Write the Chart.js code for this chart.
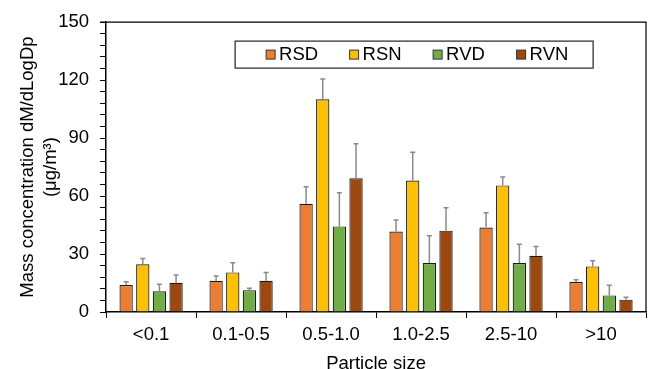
<!DOCTYPE html>
<html>
<head>
<meta charset="utf-8">
<script src="https://cdn.jsdelivr.net/npm/chart.js@4.4.0/dist/chart.umd.min.js"></script>
<style>
  html, body { margin: 0; padding: 0; background: #fff; }
  #wrap { width: 652px; height: 369px; }
</style>
</head>
<body>
<div id="wrap"><canvas id="chart"></canvas></div>
<script>
var sizeLabels = ['<0.1', '0.1-0.5', '0.5-1.0', '1.0-2.5', '2.5-10', '>10'];
var seriesNames = ['RSD', 'RSN', 'RVD', 'RVN'];
var seriesColors = ['#ED7D31', '#FFC000', '#70AD47', '#9E480E'];

var rsdValues = [14.0, 16.2, 56.0, 41.6, 43.7, 15.5];
var rsnValues = [24.7, 20.5, 110.1, 68.0, 65.5, 23.6];
var rvdValues = [10.7, 11.3, 44.3, 25.3, 25.3, 8.6];
var rvnValues = [15.1, 16.2, 69.2, 42.1, 29.1, 6.4];

var rsdErrors = [1.7, 2.4, 8.8, 6.0, 7.7, 1.2];
var rsnErrors = [3.0, 5.0, 10.5, 14.6, 4.3, 2.9];
var rvdErrors = [3.6, 1.0, 17.4, 14.1, 9.8, 5.3];
var rvnErrors = [4.0, 4.3, 17.9, 11.9, 4.8, 1.2];

var allValues = [rsdValues, rsnValues, rvdValues, rvnValues];
var allErrors = [rsdErrors, rsnErrors, rvdErrors, rvnErrors];

var fontName = "'Liberation Sans', Arial, sans-serif";

// upward error bars, drawn from the bar top
const errorBars = {
	id: 'errorBars',
	afterDatasetsDraw(chart) {
		var ctx = chart.ctx;
		var yScale = chart.scales.y;
		chart.data.datasets.forEach((ds, i) => {
			var meta = chart.getDatasetMeta(i);
			meta.data.forEach((bar, j) => {
				var yTop = yScale.getPixelForValue(ds.data[j] + ds.errors[j]);
				var yBase = yScale.getPixelForValue(ds.data[j]);
				ctx.save();
				ctx.strokeStyle = '#8a8a8a';
				ctx.lineWidth = 1.5;
				ctx.beginPath();
				ctx.moveTo(bar.x, yBase);
				ctx.lineTo(bar.x, yTop);
				ctx.moveTo(bar.x - 2.5, yTop);
				ctx.lineTo(bar.x + 2.5, yTop);
				ctx.stroke();
				ctx.restore();
			});
		});
	}
};

// frame round the plot area + boxed legend inside it
const frameAndLegend = {
	id: 'frameAndLegend',
	afterDraw(chart) {
		var ctx = chart.ctx;
		var area = chart.chartArea;
		ctx.save();
		ctx.strokeStyle = '#000';
		ctx.lineWidth = 1.2;
		ctx.beginPath();
		ctx.moveTo(area.left - 6, area.top);
		ctx.lineTo(area.right, area.top);
		ctx.lineTo(area.right, area.bottom);
		ctx.stroke();

		var boxLeft = area.left + 129;
		var boxTop = area.top + 19;
		ctx.fillStyle = '#fff';
		ctx.fillRect(boxLeft, boxTop, 358, 27);
		ctx.strokeStyle = '#222';
		ctx.lineWidth = 1.2;
		ctx.strokeRect(boxLeft, boxTop, 358, 27);

		ctx.font = '18.5px ' + fontName;
		ctx.textBaseline = 'middle';
		chart.data.datasets.forEach((ds, i) => {
			var sx = boxLeft + 31 + i * 83.5;
			ctx.fillStyle = ds.backgroundColor;
			ctx.fillRect(sx, boxTop + 9, 9, 9);
			ctx.strokeStyle = '#333';
			ctx.lineWidth = 1;
			ctx.strokeRect(sx, boxTop + 9, 9, 9);
			ctx.fillStyle = '#000';
			ctx.fillText(ds.label, sx + 13, boxTop + 14);
		});
		ctx.restore();
	}
};

var datasets = seriesNames.map((name, i) => ({
	label: name,
	data: allValues[i],
	errors: allErrors[i],
	backgroundColor: seriesColors[i],
	borderColor: '#1a1a1a',
	borderWidth: 1.2,
	borderSkipped: 'bottom',
	categoryPercentage: 0.74,
	barPercentage: 0.8
}));

new Chart(document.getElementById('chart'), {
	type: 'bar',
	data: { labels: sizeLabels, datasets: datasets },
	plugins: [errorBars, frameAndLegend],
	options: {
		responsive: true,
		maintainAspectRatio: false,
		animation: false,
		layout: { padding: { top: 12, right: 6, left: 6, bottom: 0 } },
		plugins: {
			legend: { display: false },
			tooltip: { enabled: false }
		},
		scales: {
			x: {
				grid: { offset: true, drawOnChartArea: false, drawTicks: true, tickLength: 6, color: '#000', lineWidth: 1 },
				border: { color: '#000', width: 1.5 },
				ticks: { color: '#000', font: { family: fontName, size: 18.5, lineHeight: 1 }, padding: 8, maxRotation: 0 },
				title: { display: true, text: 'Particle size', color: '#000', font: { family: fontName, size: 18.5, lineHeight: 1 }, padding: { top: 2.25, bottom: -4.25 } }
			},
			y: {
				min: 0,
				max: 150,
				grid: { drawOnChartArea: false, drawTicks: true, tickLength: 6, color: '#000', lineWidth: 1 },
				border: { color: '#000', width: 1.5 },
				ticks: {
					stepSize: 6,
					autoSkip: false,
					color: '#000',
					font: { family: fontName, size: 18.5 },
					padding: 11,
					callback: v => (v % 30 === 0 ? v : '')
				},
				title: {
					display: true,
					text: ['Mass concentration dM/dLogDp', '(\u03bcg/m\u00b3)'],
					color: '#000',
					font: { family: fontName, size: 18.5, lineHeight: 1.25 },
					padding: { top: 10.5, bottom: -15.5 }
				}
			}
		}
	}
});
</script>
</body>
</html>
